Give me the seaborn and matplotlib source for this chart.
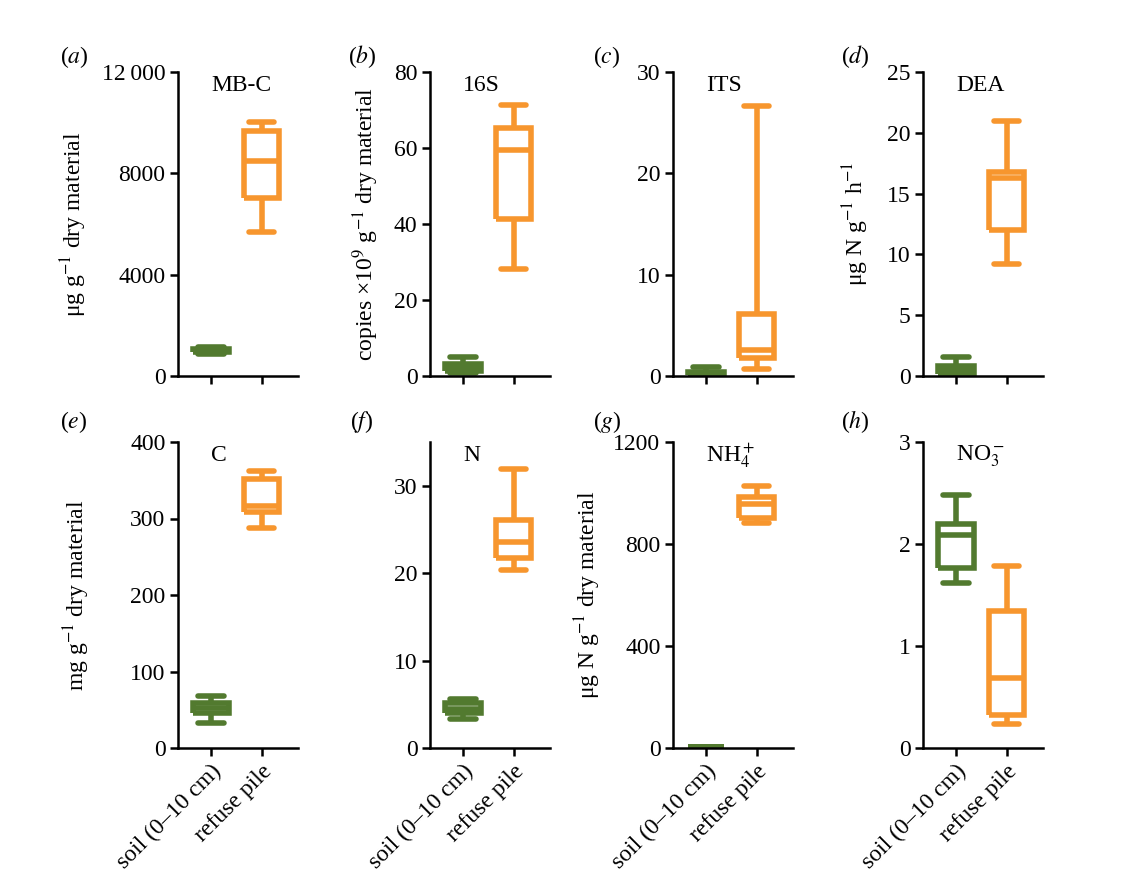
import pandas as pd
import matplotlib.pyplot as plt
import seaborn as sns

# summary values per group: [min, q1, median, q3, max]
sites = ["soil (0\u201310 cm)", "refuse pile"]

mbc_soil = [850, 950, 1000, 1080, 1150]
mbc_refuse = [5690, 7030, 8500, 9690, 10040]
s16_soil = [0.8, 1.2, 2.2, 3.2, 5.0]
s16_refuse = [28.2, 41.4, 59.5, 65.2, 71.2]
its_soil = [0.05, 0.1, 0.2, 0.35, 0.9]
its_refuse = [0.66, 1.8, 2.6, 6.08, 26.6]
dea_soil = [0.05, 0.15, 0.5, 0.8, 1.6]
dea_refuse = [9.2, 12.0, 16.3, 16.8, 20.96]
c_soil = [32.6, 45.6, 52, 58.7, 68]
c_refuse = [288, 309, 316, 352, 362]
n_soil = [3.28, 3.96, 4.5, 5.1, 5.66]
n_refuse = [20.4, 21.7, 23.6, 26.1, 31.9]
nh4_soil = [1, 2, 3, 4, 5]
nh4_refuse = [884, 903, 955, 983, 1028]
no3_soil = [1.62, 1.76, 2.09, 2.2, 2.48]
no3_refuse = [0.24, 0.32, 0.69, 1.34, 1.78]

panel_names = ["MB-C", "16S", "ITS", "DEA", "C", "N", "NH$_4^+$", "NO$_3^-$"]
panel_letters = ["a", "b", "c", "d", "e", "f", "g", "h"]
soil_vals = [mbc_soil, s16_soil, its_soil, dea_soil, c_soil, n_soil, nh4_soil, no3_soil]
refuse_vals = [mbc_refuse, s16_refuse, its_refuse, dea_refuse, c_refuse, n_refuse, nh4_refuse, no3_refuse]
ylabels = ["\u03bcg g$^{-1}$ dry material",
           "copies \u00d710$^{9}$ g$^{-1}$ dry material",
           None,
           "\u03bcg N g$^{-1}$ h$^{-1}$",
           "mg g$^{-1}$ dry material",
           None,
           "\u03bcg N g$^{-1}$ dry material",
           None]
ylims = [12000, 80, 30, 25, 400, 35, 1200, 3]
yticks = [[0, 4000, 8000, 12000], [0, 20, 40, 60, 80], [0, 10, 20, 30],
          [0, 5, 10, 15, 20, 25], [0, 100, 200, 300, 400], [0, 10, 20, 30],
          [0, 400, 800, 1200], [0, 1, 2, 3]]

rows = []
for name, sv, rv in zip(panel_names, soil_vals, refuse_vals):
    for v in sv:
        rows.append((name, sites[0], v))
    for v in rv:
        rows.append((name, sites[1], v))
df = pd.DataFrame(rows, columns=["panel", "site", "value"])

sns.set_style("ticks")
plt.rcParams["font.family"] = ["Liberation Serif", "DejaVu Serif"]
plt.rcParams["mathtext.fontset"] = "stix"
plt.rcParams["lines.solid_joinstyle"] = "miter"
for key in ["text.color", "axes.labelcolor", "xtick.color", "ytick.color", "axes.edgecolor"]:
    plt.rcParams[key] = "black"

W, H = 1134, 884
fs = 17
fig = plt.figure(figsize=(W / 100, H / 100), dpi=100)

palette = {sites[0]: "#527a2f", sites[1]: "#f7962e"}
lefts = [178, 430, 673, 923]
row_top = [72, 442]
row_bot = [376, 748]
letter_x = [74, 362, 607, 855]
letter_y = [57, 422]
label_x = [-0.74, -0.41, None, -0.43, -0.72, None, -0.58, None]

for i, name in enumerate(panel_names):
    r, c = divmod(i, 4)
    ax = fig.add_axes([lefts[c] / W, 1 - row_bot[r] / H, 120 / W, (row_bot[r] - row_top[r]) / H])
    sub = df[df["panel"] == name]
    sns.boxplot(data=sub, x="site", y="value", hue="site", order=sites,
                palette=palette, fill=False, whis=(0, 100), width=0.7,
                linewidth=4, capwidths=0.5, legend=False, ax=ax)
    # same thickness everywhere, rounded ends on the whisker caps
    for ln in ax.lines:
        ln.set_linewidth(4)
        xd = ln.get_xdata()
        if len(xd) == 2 and 0 < abs(xd[1] - xd[0]) < 0.6:
            ln.set_solid_capstyle("round")
        else:
            ln.set_solid_capstyle("butt")
    ax.set_xlim(-0.65, 1.72)
    ax.set_ylim(0, ylims[i])
    ax.set_yticks(yticks[i])
    if name == "MB-C":
        ax.set_yticklabels(["0", "4000", "8000", "12\u2009000"])
    ax.set_xlabel("")
    ax.set_ylabel("")
    sns.despine(ax=ax)
    for s in ["left", "bottom"]:
        ax.spines[s].set_linewidth(1.8)
    ax.tick_params(axis="both", length=6, width=1.8, labelsize=fs, pad=3)
    ax.set_xticks([0, 1])
    if r == 0:
        ax.set_xticklabels([])
    else:
        ax.set_xticklabels(sites, rotation=45, ha="right", va="top",
                           rotation_mode="anchor", fontsize=fs)
    if ylabels[i]:
        ax.set_ylabel(ylabels[i], fontsize=fs)
        ax.yaxis.set_label_coords(label_x[i], 0.5)
    ax.text(33 / 120, 0.955, name, transform=ax.transAxes,
            fontsize=fs, ha="left", va="center")
    fig.text(letter_x[c] / W, 1 - letter_y[r] / H, "(" + "$\\it{" + panel_letters[i] + "}$" + ")",
             fontsize=fs, ha="center", va="center")

plt.savefig("out.png", dpi=100)
plt.close()
